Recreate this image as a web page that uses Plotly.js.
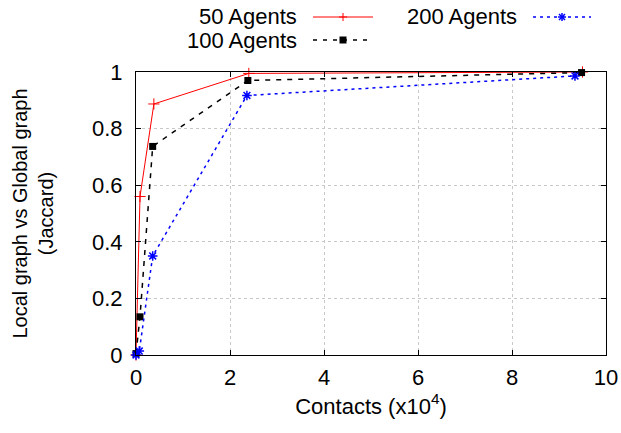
<!DOCTYPE html>
<html><head><meta charset="utf-8">
<script src="https://cdn.plot.ly/plotly-3.0.1.min.js"></script>
<style>html,body{margin:0;padding:0;background:#fff}</style>
</head><body>
<div id="chart" style="width:621px;height:433px"></div>
<script>
const seriesNames = ["50 Agents", "100 Agents", "200 Agents"];
const contacts50 = [0, 0.085, 0.38, 2.4, 9.5];
const jaccard50 = [0.0, 0.56, 0.887, 0.995, 1.0];
const contacts100 = [0, 0.085, 0.355, 2.38, 9.48];
const jaccard100 = [0.005, 0.135, 0.737, 0.97, 0.998];
const contacts200 = [0, 0.07, 0.355, 2.36, 9.34];
const jaccard200 = [0.0, 0.014, 0.35, 0.917, 0.986];
const xTicks = [0, 2, 4, 6, 8, 10];
const yTicks = [0, 0.2, 0.4, 0.6, 0.8, 1];
const yTickText = ["0", "0.2", "0.4", "0.6", "0.8", "1"];

const FONT = "Liberation Sans, Arial, Helvetica, sans-serif";
const W = 621, H = 433, L = 136, R = 15, T = 72, B = 78;
const pw = W - L - R, ph = H - T - B;
const px = x => (x - L) / pw;
const py = y => (H - B - y) / ph;

const traces = [
  {x: contacts50, y: jaccard50, name: seriesNames[0], mode: "lines+markers",
   line: {color: "#ff0000", width: 1}, marker: {symbol: "cross-thin-open", size: 8, color: "#ff0000", line: {color: "#ff0000", width: 1}}, cliponaxis: false},
  {x: contacts100, y: jaccard100, name: seriesNames[1], mode: "lines+markers",
   line: {color: "#000000", width: 1.5, dash: "5px,6px"}, marker: {symbol: "square", size: 7, color: "#000000"}, cliponaxis: false},
  {x: contacts200, y: jaccard200, name: seriesNames[2], mode: "lines+markers",
   line: {color: "#0000ff", width: 1.5, dash: "3px,4px"}, marker: {symbol: "asterisk-open", size: 8, color: "#0000ff", line: {color: "#0000ff", width: 1.5}}, cliponaxis: false}
];

function ln(x0, y0, x1, y1, color, width, dash) {
  return {type: "line", xref: "paper", yref: "paper", x0: px(x0), y0: py(y0), x1: px(x1), y1: py(y1),
          line: {color: color, width: width, dash: dash || "solid"}};
}
const shapes = [
  ln(313, 17, 373, 17, "#ff0000", 1),
  ln(339, 17, 347, 17, "#ff0000", 1), ln(343, 13, 343, 21, "#ff0000", 1),
  ln(313, 40, 373, 40, "#000000", 1.5, "4px,6px"),
  {type: "rect", xref: "paper", yref: "paper", x0: px(339.5), x1: px(346.5), y0: py(43.5), y1: py(36.5), fillcolor: "#000", line: {width: 0}},
  ln(533, 17, 591, 17, "#0000ff", 1.5, "3px,4px"),
  ln(562, 13, 562, 21, "#0000ff", 1.5), ln(558, 17, 566, 17, "#0000ff", 1.5),
  ln(559, 14, 565, 20, "#0000ff", 1.5), ln(559, 20, 565, 14, "#0000ff", 1.5)
];
function lab(text, xr, y) {
  return {text: text, xref: "paper", yref: "paper", x: px(xr), y: py(y), xanchor: "right", yanchor: "middle",
          showarrow: false, font: {family: FONT, size: 22, color: "#000"}};
}
const annotations = [lab(seriesNames[0], 299, 17), lab(seriesNames[1], 299, 40), lab(seriesNames[2], 519, 17)];

const layout = {
  width: W, height: H, margin: {l: L, r: R, t: T, b: B},
  paper_bgcolor: "#fff", plot_bgcolor: "#fff", showlegend: false,
  font: {family: FONT, size: 22, color: "#000"},
  xaxis: {range: [0, 10], tickvals: xTicks, ticktext: xTicks.map(String), ticks: "inside", ticklen: 5, tickcolor: "#000",
          showline: true, linecolor: "#000", linewidth: 1, mirror: "ticks", zeroline: false, ticklabelstandoff: 3,
          showgrid: true, gridcolor: "#c8c8c8", griddash: "dot", gridwidth: 1,
          title: {text: "Contacts (x10<sup>4</sup>)", font: {family: FONT, size: 22}, standoff: 6}},
  yaxis: {range: [0, 1], tickvals: yTicks, ticktext: yTickText, ticks: "inside", ticklen: 5, tickcolor: "#000",
          showline: true, linecolor: "#000", linewidth: 1, mirror: "ticks", zeroline: false, ticklabelstandoff: 8,
          showgrid: true, gridcolor: "#c8c8c8", griddash: "dot", gridwidth: 1,
          title: {text: "Local graph vs Global graph<br>(Jaccard)", font: {family: FONT, size: 20}, standoff: 33}},
  shapes: shapes, annotations: annotations
};
Plotly.newPlot("chart", traces, layout, {displayModeBar: false, staticPlot: true});
</script>
</body></html>
